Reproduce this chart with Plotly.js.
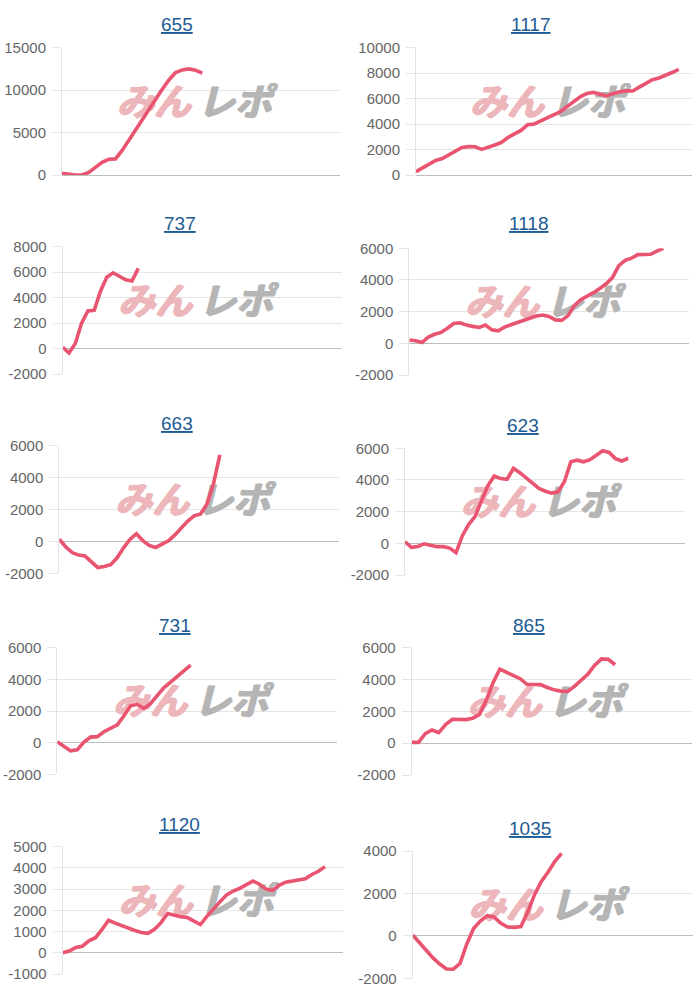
<!DOCTYPE html>
<html><head><meta charset="utf-8">
<script src="https://cdn.plot.ly/plotly-3.0.1.min.js"></script>
<style>html,body{margin:0;padding:0;background:#fff}</style>
</head><body><div id="chart" style="width:700px;height:1000px"></div>
<script>
// ---- data ----
const titles = ['655','1117','737','1118','663','623','731','865','1120','1035'];

const s655  = [200,50,0,0,300,900,1500,1850,1900,2900,4130,5300,6480,7740,8920,10100,11200,12070,12380,12500,12340,12000];
const s1117 = [260,550,870,1140,1290,1580,1950,2170,2230,2220,2010,2150,2360,2560,2950,3230,3500,3950,4010,4250,4480,4700,4970,5370,5760,6150,6400,6490,6340,6210,6390,6540,6610,6600,6900,7220,7480,7620,7800,8050,8300];
const s737  = [100,-350,400,2000,2950,3000,4500,5600,5950,5650,5400,5300,6300];
const s1118 = [210,160,50,400,570,690,950,1250,1300,1150,1070,1000,1150,850,790,1020,1170,1320,1470,1620,1730,1790,1700,1480,1450,1750,2380,2760,2960,3200,3460,3760,4150,4900,5240,5380,5600,5620,5620,5820,6000];
const s663  = [140,-350,-700,-860,-920,-1280,-1640,-1580,-1460,-1030,-400,120,480,50,-250,-380,-170,40,410,810,1280,1600,1720,2350,3600,5420];
const s623  = [100,-250,-200,-30,-120,-210,-210,-300,-590,480,1200,1700,2700,3650,4250,4090,4040,4740,4460,4120,3830,3470,3290,3170,3250,3900,5150,5250,5150,5280,5560,5850,5740,5350,5200,5370];
const s731  = [60,-200,-520,-450,30,350,380,690,880,1130,1700,2330,2420,2150,2480,3020,3480,3830,4200,4560,4900];
const s865  = [50,50,600,830,660,1170,1500,1480,1480,1570,1800,2700,3800,4650,4450,4300,4050,3700,3680,3680,3500,3350,3270,3250,3570,3930,4350,4900,5300,5270,4930];
const s1120 = [0,80,250,310,560,710,1100,1530,1400,1270,1170,1050,960,920,1110,1420,1850,1770,1700,1660,1500,1330,1720,2080,2410,2730,2910,3040,3220,3380,3230,3000,2940,3180,3330,3390,3420,3490,3690,3840,4060];
const s1035 = [40,-320,-700,-1040,-1330,-1560,-1570,-1300,-380,350,700,950,890,600,420,400,440,1120,1930,2550,3000,3500,3890];

const ticks655  = [0,5000,10000,15000];
const ticks1117 = [0,2000,4000,6000,8000,10000];
const ticks737  = [-2000,0,2000,4000,6000,8000];
const ticks1118 = [-2000,0,2000,4000,6000];
const ticks663  = [-2000,0,2000,4000,6000];
const ticks623  = [-2000,0,2000,4000,6000];
const ticks731  = [-2000,0,2000,4000,6000];
const ticks865  = [-2000,0,2000,4000,6000];
const ticks1120 = [-1000,0,1000,2000,3000,4000,5000];
const ticks1035 = [-2000,0,2000,4000];

const series = [s655,s1117,s737,s1118,s663,s623,s731,s865,s1120,s1035];
const tickSets = [ticks655,ticks1117,ticks737,ticks1118,ticks663,ticks623,ticks731,ticks865,ticks1120,ticks1035];

// ---- layout geometry (pixels) ----
const W = 700, H = 1000;
const boxes = [
  [62,340,47.7,175],[416,692,47.7,175],
  [62.7,341.7,246.7,374],[409.3,689.3,248.3,375],
  [59.3,339.3,445.7,573.3],[405,685,448.3,575],
  [57.3,337.3,647.7,774.3],[411.7,691.7,647.7,775],
  [62.7,342.7,846.7,974],[412.7,692.7,851,978.3]
];
const xSlots = [41.6,42.03,44.3,44.1,43.6,43.9,42,41.3,42.7,41.4];
const titlePos = [[177,24],[530,24],[180,224],[528,224],[177,423],[523,425],[175,625],[529,625],[180,824],[530,828]];

const traces = [], annotations = [];
const layout = {
  width: W, height: H, margin:{l:0,r:0,t:0,b:0},
  paper_bgcolor:'#fff', plot_bgcolor:'rgba(0,0,0,0)', showlegend:false,
  font:{family:'"Liberation Sans", Arial, sans-serif', color:'#666'},
  annotations: annotations
};

const pinkWM = '#ecb6bb', grayWM = '#b5b5b5';

series.forEach((s, i) => {
  const n = i + 1;
  const xa = 'x' + (n === 1 ? '' : n), ya = 'y' + (n === 1 ? '' : n);
  const [l, r, t, b] = boxes[i];
  const tk = tickSets[i];
  const ymin = tk[0], ymax = tk[tk.length - 1];
  const xmax = xSlots[i];
  const pxX = xmax / (r - l), pxY = (ymax - ymin) / (b - t);
  const cx = xmax / 2, cy = (ymin + ymax) / 2;

  // watermark (below line)
  traces.push({
    type:'scatter', mode:'text', xaxis:xa, yaxis:ya, hoverinfo:'skip', cliponaxis:false,
    x:[cx - 47 * pxX], y:[cy + 6 * pxY], text:['みん'],
    textfont:{family:'"Noto Sans CJK JP", sans-serif', size:37, color:pinkWM, weight:'bold', style:'italic',
              shadow:'1px 0 0 ' + pinkWM + ', -1px 0 0 ' + pinkWM + ', 0 1px 0 ' + pinkWM}
  });
  traces.push({
    type:'scatter', mode:'text', xaxis:xa, yaxis:ya, hoverinfo:'skip', cliponaxis:false,
    x:[cx + 34 * pxX], y:[cy + 6 * pxY], text:['レポ'],
    textfont:{family:'"Noto Sans CJK JP", sans-serif', size:37, color:grayWM, weight:'bold', style:'italic',
              shadow:'1px 0 0 ' + grayWM + ', -1px 0 0 ' + grayWM + ', 0 1px 0 ' + grayWM}
  });
  // data line
  traces.push({
    type:'scatter', mode:'lines', xaxis:xa, yaxis:ya, hoverinfo:'skip',
    x: s.map((_, k) => k), y: s,
    line:{color:'rgb(233,84,112)', width:3.6}
  });

  layout['xaxis' + (n === 1 ? '' : n)] = {
    domain:[l / W, r / W], range:[0, xmax], anchor:ya,
    showticklabels:false, showgrid:false, zeroline:false, showline:false, ticks:'', fixedrange:true
  };
  layout['yaxis' + (n === 1 ? '' : n)] = {
    domain:[1 - b / H, 1 - t / H], range:[ymin, ymax], anchor:xa,
    tickvals: tk, ticktext: tk.map(String),
    showgrid:true, gridcolor:'#e5e5e5', gridwidth:1,
    zeroline:true, zerolinecolor:'#bdbdbd', zerolinewidth:1,
    showline:true, linecolor:'#e3e3e3', linewidth:1,
    ticks:'outside', ticklen:9, tickcolor:'#e5e5e5', tickwidth:1,
    ticklabelstandoff:3,
    tickfont:{size:15, color:'#666', family:'"Liberation Sans", Arial, sans-serif'},
    fixedrange:true
  };

  annotations.push({
    xref:'paper', yref:'paper', x: titlePos[i][0] / W, y: 1 - titlePos[i][1] / H,
    xanchor:'center', yanchor:'middle', showarrow:false,
    text:'<span style="text-decoration:underline">' + titles[i] + '</span>',
    font:{size:19, color:'#1c5b94', family:'"Liberation Sans", Arial, sans-serif'}
  });
});

Plotly.newPlot('chart', traces, layout, {staticPlot:true, displayModeBar:false});
</script>
</body></html>
